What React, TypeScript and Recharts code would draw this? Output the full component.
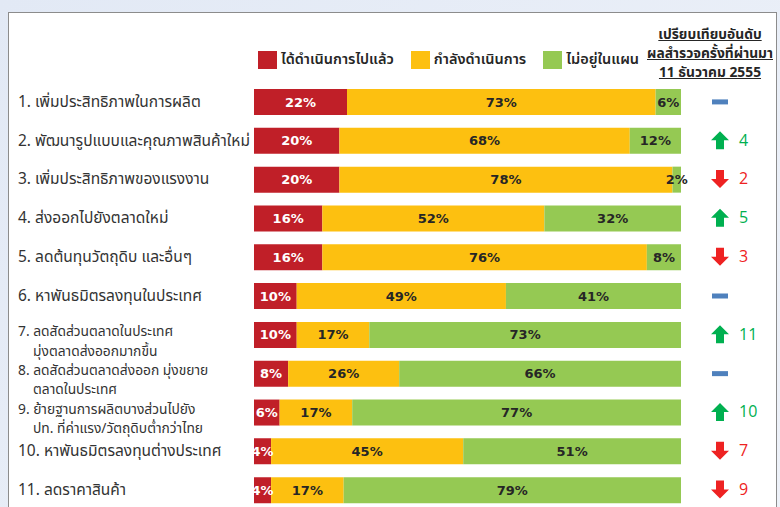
import React from "react";
import { BarChart, Bar, XAxis, YAxis, LabelList, Legend } from "recharts";

const categories = [
  "1. เพิ่มประสิทธิภาพในการผลิต",
  "2. พัฒนารูปแบบและคุณภาพสินค้าใหม่",
  "3. เพิ่มประสิทธิภาพของแรงงาน",
  "4. ส่งออกไปยังตลาดใหม่",
  "5. ลดต้นทุนวัตถุดิบ และอื่นๆ",
  "6. หาพันธมิตรลงทุนในประเทศ",
  "7. ลดสัดส่วนตลาดในประเทศ\nมุ่งตลาดส่งออกมากขึ้น",
  "8. ลดสัดส่วนตลาดส่งออก มุ่งขยาย\nตลาดในประเทศ",
  "9. ย้ายฐานการผลิตบางส่วนไปยัง\nปท. ที่ค่าแรง/วัตถุดิบต่ำกว่าไทย",
  "10. หาพันธมิตรลงทุนต่างประเทศ",
  "11. ลดราคาสินค้า",
];

const done = [22, 20, 20, 16, 16, 10, 10, 8, 6, 4, 4];
const inProgress = [73, 68, 78, 52, 76, 49, 17, 26, 17, 45, 17];
const notPlanned = [6, 12, 2, 32, 8, 41, 73, 66, 77, 51, 79];
// rank in the previous survey (same as current rank = unchanged)
const prevRank = [1, 4, 2, 5, 3, 6, 11, 8, 10, 7, 9];

const series = [
  { key: "done", name: "ได้ดำเนินการไปแล้ว", color: "#c01f28", text: "#ffffff", values: done },
  { key: "inProgress", name: "กำลังดำเนินการ", color: "#fdc010", text: "#262626", values: inProgress },
  { key: "notPlanned", name: "ไม่อยู่ในแผน", color: "#95c953", text: "#262626", values: notPlanned },
];

const headerLines = ["เปรียบเทียบอันดับ", "ผลสำรวจครั้งที่ผ่านมา", "11 ธันวาคม 2555"];

const data = categories.map((name, i) => ({
  name,
  rank: i + 1,
  done: done[i],
  inProgress: inProgress[i],
  notPlanned: notPlanned[i],
  prev: prevRank[i],
}));

const thaiFont = "Tahoma, 'Noto Sans Thai', 'Noto Sans', sans-serif";
const numFont = "'DejaVu Sans', Verdana, sans-serif";

function CategoryTick({ y, payload }: any) {
  const lines = String(payload.value).split("\n");
  const multi = lines.length > 1;
  return (
    <g>
      {lines.map((line, i) => (
        <text
          key={i}
          x={i === 0 ? 18 : 33}
          y={(multi ? y - 3 : y) + i * 19.4}
          dominantBaseline="middle"
          fontSize={multi ? 13.8 : 15.5}
          fill="#333333"
          fontFamily={thaiFont}
        >
          {line}
        </text>
      ))}
    </g>
  );
}

function RankTick({ y, payload }: any) {
  const row = data[payload.index];
  if (!row) return null;
  const cx = 720;
  const cy = y - 1;
  if (row.prev === row.rank) {
    return <rect x={cx - 8} y={cy - 2} width={16} height={5} fill="#4f81bd" />;
  }
  const up = row.prev > row.rank;
  const color = up ? "#00b050" : "#ee2222";
  const path = up
    ? `M${cx} ${cy - 9} L${cx + 9} ${cy} L${cx + 4} ${cy} L${cx + 4} ${cy + 9} L${cx - 4} ${cy + 9} L${cx - 4} ${cy} L${cx - 9} ${cy} Z`
    : `M${cx} ${cy + 9} L${cx + 9} ${cy} L${cx + 4} ${cy} L${cx + 4} ${cy - 9} L${cx - 4} ${cy - 9} L${cx - 4} ${cy} L${cx - 9} ${cy} Z`;
  return (
    <g>
      <path d={path} fill={color} />
      <text x={cx + 19} y={cy + 1} dominantBaseline="middle" fontSize={16} fill={color} fontFamily="'Open Sans', sans-serif">
        {row.prev}
      </text>
    </g>
  );
}

const makeLabel = (values: number[], color: string) => (props: any) => {
  const { x, y, width, height, index } = props;
  return (
    <text
      x={Number(x) + Number(width) / 2}
      y={Number(y) + Number(height) / 2 + 1}
      textAnchor="middle"
      dominantBaseline="middle"
      fill={color}
      fontSize={13}
      fontWeight="bold"
      fontFamily={numFont}
    >
      {values[index]}%
    </text>
  );
};

function LegendContent() {
  return (
    <div style={{ display: "flex", alignItems: "center", fontFamily: thaiFont, fontSize: 14.5, color: "#262626", fontWeight: 600 }}>
      {series.map((s) => (
        <div key={s.key} style={{ display: "flex", alignItems: "center", marginRight: 17 }}>
          <span style={{ display: "inline-block", width: 19, height: 18, background: s.color, marginRight: 4 }} />
          <span>{s.name}</span>
        </div>
      ))}
    </div>
  );
}

export default function App() {
  return (
    <div
      style={{
        position: "absolute",
        left: 0,
        top: 0,
        width: 780,
        height: 507,
        overflow: "hidden",
        background: "linear-gradient(135deg, #e2e9f5 0%, #eef2f9 100%)",
      }}
    >
      <div
        style={{
          position: "absolute",
          left: 8,
          top: 12,
          width: 767,
          height: 520,
          background: "#ffffff",
          border: "1px solid #8c8c8c",
        }}
      />
      <div
        style={{
          position: "absolute",
          left: 638,
          top: 25,
          width: 144,
          textAlign: "center",
          fontFamily: thaiFont,
          fontSize: 13.8,
          fontWeight: "bold",
          color: "#262626",
          lineHeight: "19px",
          textDecoration: "underline",
        }}
      >
        {headerLines.map((l) => (
          <div key={l}>{l}</div>
        ))}
      </div>
      <div style={{ position: "absolute", left: 0, top: 0 }}>
        <BarChart
          width={780}
          height={520}
          data={data}
          layout="vertical"
          stackOffset="expand"
          barSize={26}
          margin={{ top: 83, right: 8, bottom: 10, left: 8 }}
        >
          <XAxis type="number" hide domain={[0, 1]} />
          <YAxis
            yAxisId="left"
            type="category"
            dataKey="name"
            width={246}
            axisLine={false}
            tickLine={false}
            tick={<CategoryTick />}
            interval={0}
          />
          <YAxis
            yAxisId="rank"
            orientation="right"
            type="category"
            dataKey="name"
            width={91}
            axisLine={false}
            tickLine={false}
            tick={<RankTick />}
            interval={0}
          />
          <Legend
            verticalAlign="middle"
            align="center"
            layout="horizontal"
            wrapperStyle={{ top: 49, left: 258, width: "auto" }}
            content={<LegendContent />}
          />
          {series.map((s) => (
            <Bar key={s.key} yAxisId="left" dataKey={s.key} name={s.name} stackId="a" fill={s.color} isAnimationActive={false}>
              <LabelList dataKey={s.key} content={makeLabel(s.values, s.text)} />
            </Bar>
          ))}
        </BarChart>
      </div>
    </div>
  );
}
